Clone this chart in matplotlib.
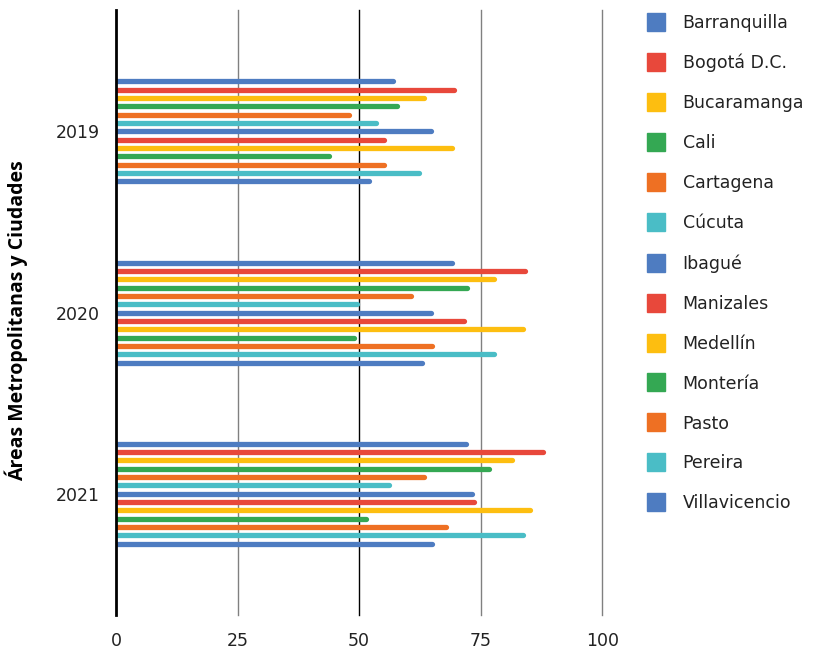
import matplotlib
matplotlib.use("Agg")
from matplotlib import pyplot as plt
from matplotlib.lines import Line2D
import numpy as np

years = ["2019", "2020", "2021"]
cities = ["Barranquilla", "Bogotá D.C.", "Bucaramanga", "Cali", "Cartagena",
          "Cúcuta", "Ibagué", "Manizales", "Medellín", "Montería", "Pasto",
          "Pereira", "Villavicencio"]
colors = ["#4E7CC1", "#E8483B", "#FDBE10", "#34A853", "#EE7023", "#4ABDC6",
          "#4E7CC1", "#E8483B", "#FDBE10", "#34A853", "#EE7023", "#4ABDC6",
          "#4E7CC1"]

# one list per year, in the same order as cities
v2019 = [57.0, 69.5, 63.3, 57.8, 47.9, 53.4, 64.7, 55.1, 69.1, 43.7, 55.1, 62.3, 52.0]
v2020 = [69.1, 84.2, 77.7, 72.2, 60.6, 49.6, 64.7, 71.5, 83.8, 48.9, 65.0, 77.7, 63.0]
v2021 = [71.9, 87.9, 81.4, 76.7, 63.3, 56.1, 73.3, 73.6, 85.2, 51.3, 67.8, 83.8, 65.0]
values = [v2019, v2020, v2021]

xticks = [0, 25, 50, 75, 100]
grid_colors = ["black", "#808080", "black", "#808080", "#808080"]

fig = plt.figure(figsize=(8.13, 6.54), dpi=100)
ax = fig.add_axes([0.1429, 0.0596, 0.5978, 0.9251])

step = 0.046
offsets = (np.arange(len(cities)) - (len(cities) - 1) / 2) * step

for xv, gc in zip(xticks[1:], grid_colors[1:]):
    ax.axvline(xv, color=gc, lw=1.0, zorder=1, clip_on=False)

for gi, vals in enumerate(values):
    for ci, v in enumerate(vals):
        y = gi + offsets[ci]
        ax.plot([0, v], [y, y], color=colors[ci], lw=3.8,
                solid_capstyle="round", zorder=2)

ax.set_xlim(0, 100)
ax.set_ylim(2.67, -0.67)
ax.set_xticks(xticks)
ax.set_yticks(range(len(years)))
ax.set_yticklabels(years)
ax.tick_params(axis="both", length=0, labelsize=12.5, colors="#222222")
ax.tick_params(axis="x", pad=12)
ax.tick_params(axis="y", pad=12)
for s in ["top", "right", "bottom"]:
    ax.spines[s].set_visible(False)
ax.spines["left"].set_linewidth(2)
ax.spines["left"].set_color("black")
ax.spines["left"].set_zorder(3)

ax.set_ylabel("Áreas Metropolitanas y Ciudades", fontsize=14,
              fontweight="bold", family="Open Sans")
ax.yaxis.set_label_coords(-0.181, 0.486)

handles = [Line2D([], [], marker="s", ls="none", markersize=13,
                  markerfacecolor=c, markeredgecolor=c) for c in colors]
fig.legend(handles, cities, loc="upper left", bbox_to_anchor=(0.768, 1.0),
           frameon=False, fontsize=12.5, labelspacing=1.265,
           handletextpad=0.55, borderaxespad=0.4, labelcolor="#222222")

fig.savefig("out.png", dpi=100)
